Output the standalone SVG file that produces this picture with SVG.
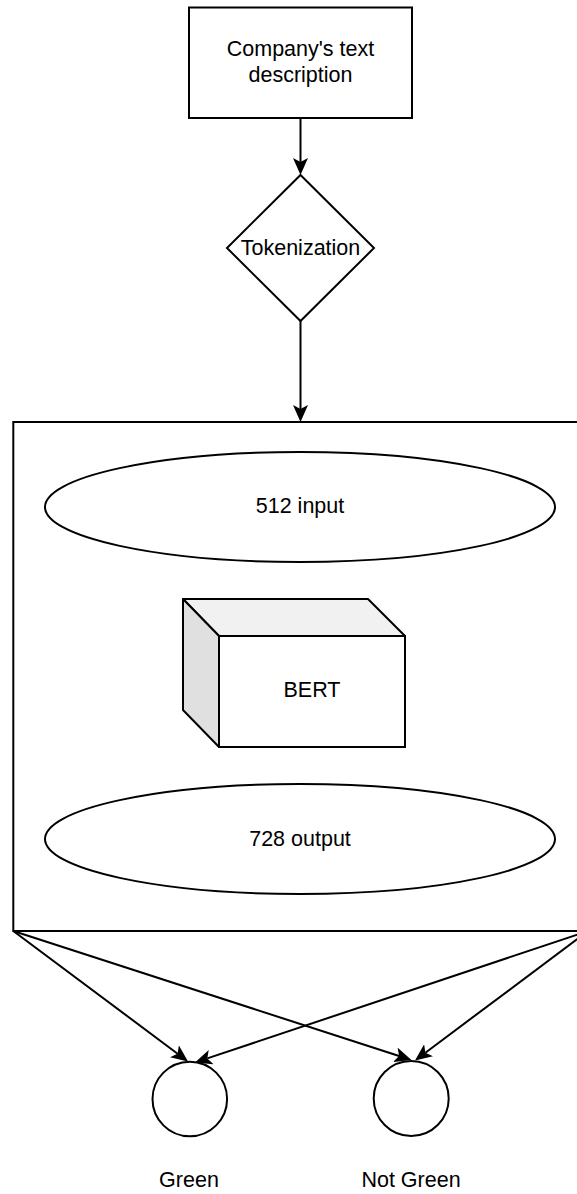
<svg xmlns="http://www.w3.org/2000/svg" width="577" height="1194" viewBox="0 0 577 1194">
  <style>
    .shape { fill: #ffffff; stroke: #000000; stroke-width: 2; }
    .edge { fill: none; stroke: #000000; stroke-width: 2; }
    .label { font-family: "Liberation Sans", Arial, Helvetica, sans-serif; font-size: 21.5px; fill: #000000; text-anchor: middle; }
  </style>
  <defs>
    <!-- classic notched arrowhead, 17 long, notch at x=4 -->
    <marker id="arrow" markerUnits="userSpaceOnUse" viewBox="0 0 17 15" markerWidth="17" markerHeight="15" refX="4" refY="7.5" orient="auto">
      <path d="M0,0 L17,7.5 L0,15 L4,7.5 Z" fill="#000000"/>
    </marker>
  </defs>
  <rect width="577" height="1194" fill="#ffffff"/>

  <!-- container for the model stage -->
  <g id="model-container">
    <rect class="shape" x="13.3" y="422" width="574.7" height="509"/>
  </g>

  <g id="company-text">
    <rect class="shape" x="189" y="7.5" width="223" height="110.5"/>
    <text class="label" x="300.5" y="56">Company's text</text>
    <text class="label" x="300.5" y="82">description</text>
  </g>

  <g id="tokenization">
    <polygon class="shape" points="300.5,175 374,248 300.5,321 227,248"/>
    <text class="label" x="300.5" y="255">Tokenization</text>
  </g>

  <g id="input-512">
    <ellipse class="shape" cx="300" cy="507" rx="255" ry="55"/>
    <text class="label" x="300" y="513">512 input</text>
  </g>

  <g id="bert">
    <polygon points="183,599 368,599 405,636 219,636" fill="#f1f1f1" stroke="#000000" stroke-width="2" stroke-linejoin="round"/>
    <polygon points="183,599 219,636 219,747 183,710" fill="#e0e0e0" stroke="#000000" stroke-width="2" stroke-linejoin="round"/>
    <rect class="shape" x="219" y="636" width="186" height="111"/>
    <text class="label" x="312" y="697">BERT</text>
  </g>

  <g id="output-728">
    <ellipse class="shape" cx="300" cy="839" rx="255" ry="55"/>
    <text class="label" x="300" y="846">728 output</text>
  </g>

  <g id="green">
    <circle class="shape" cx="189.8" cy="1099" r="37.3"/>
    <text class="label" x="189" y="1187">Green</text>
  </g>

  <g id="not-green">
    <circle class="shape" cx="411.2" cy="1098.5" r="37.5"/>
    <text class="label" x="411" y="1187">Not Green</text>
  </g>

  <g id="connectors">
    <line class="edge" x1="300.5" y1="118" x2="300.5" y2="162" marker-end="url(#arrow)"/>
    <line class="edge" x1="300.5" y1="321" x2="300.5" y2="409" marker-end="url(#arrow)"/>
    <line class="edge" x1="13.3" y1="931" x2="177.6" y2="1053.7" marker-end="url(#arrow)"/>
    <line class="edge" x1="13.3" y1="931" x2="399.1" y2="1056" marker-end="url(#arrow)"/>
    <line class="edge" x1="588" y1="931" x2="207.3" y2="1058.4" marker-end="url(#arrow)"/>
    <line class="edge" x1="588" y1="931" x2="425.4" y2="1052.7" marker-end="url(#arrow)"/>
  </g>
</svg>
